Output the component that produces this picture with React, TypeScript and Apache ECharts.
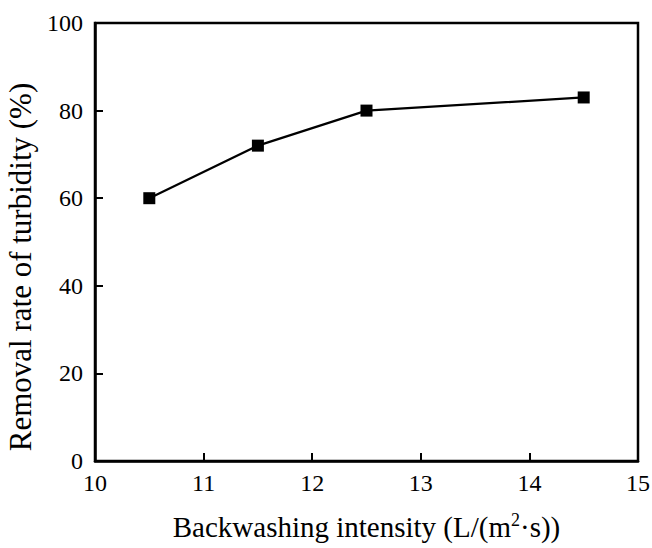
import React, { useEffect, useRef } from "react";
import * as echarts from "echarts";

const intensity = [10.5, 11.5, 12.5, 14.5];
const removalRate = [60, 72, 80, 83];
const xTicks = [10, 11, 12, 13, 14, 15];
const yTicks = [0, 20, 40, 60, 80, 100];

const FONT = "'Liberation Serif', 'Times New Roman', serif";

export default function App() {
  const ref = useRef<HTMLDivElement>(null);

  useEffect(() => {
    if (!ref.current) return;
    document.body.style.margin = "0";
    const chart = echarts.init(ref.current, null, { renderer: "svg" });
    const axisCommon = {
      axisLine: { show: true, lineStyle: { color: "#000", width: 2.5 } },
      axisTick: { show: true, inside: true, length: 8, lineStyle: { color: "#000", width: 2 } },
      splitLine: { show: false },
      axisLabel: { color: "#000", fontFamily: FONT, fontSize: 24 },
    };
    chart.setOption({
      animation: false,
      backgroundColor: "#fff",
      grid: {
        left: 95,
        right: 14,
        top: 23,
        bottom: 87,
        outerBoundsMode: "none",
        show: true,
        borderColor: "#000",
        borderWidth: 2.5,
      },
      xAxis: {
        type: "value",
        min: xTicks[0],
        max: xTicks[xTicks.length - 1],
        interval: 1,
        ...axisCommon,
        axisLabel: { ...axisCommon.axisLabel, margin: 10 },
        name: "Backwashing intensity (L/(m{sup|2}·s))",
        nameLocation: "middle",
        nameGap: 50,
        nameTextStyle: {
          color: "#000",
          fontFamily: FONT,
          fontSize: 29,
          rich: {
            sup: {
              fontFamily: FONT,
              fontSize: 18,
              color: "#000",
              verticalAlign: "top",
              padding: [0, 0, 14, 0],
            },
          },
        },
      },
      yAxis: {
        type: "value",
        min: yTicks[0],
        max: yTicks[yTicks.length - 1],
        interval: 20,
        ...axisCommon,
        axisLabel: { ...axisCommon.axisLabel, margin: 12 },
        name: "Removal rate of turbidity (%)",
        nameLocation: "middle",
        nameGap: 42,
        nameTextStyle: {
          color: "#000",
          fontFamily: FONT,
          fontSize: 31,
          // the title sits a little below the axis centre
          padding: [0, 50, 0, 0],
        },
      },
      series: [
        {
          type: "line",
          data: intensity.map((x, i) => [x, removalRate[i]]),
          symbol: "rect",
          symbolSize: 12,
          itemStyle: { color: "#000" },
          lineStyle: { color: "#000", width: 2.2 },
        },
      ],
    });
    return () => chart.dispose();
  }, []);

  return <div ref={ref} style={{ width: 652, height: 548 }} />;
}
